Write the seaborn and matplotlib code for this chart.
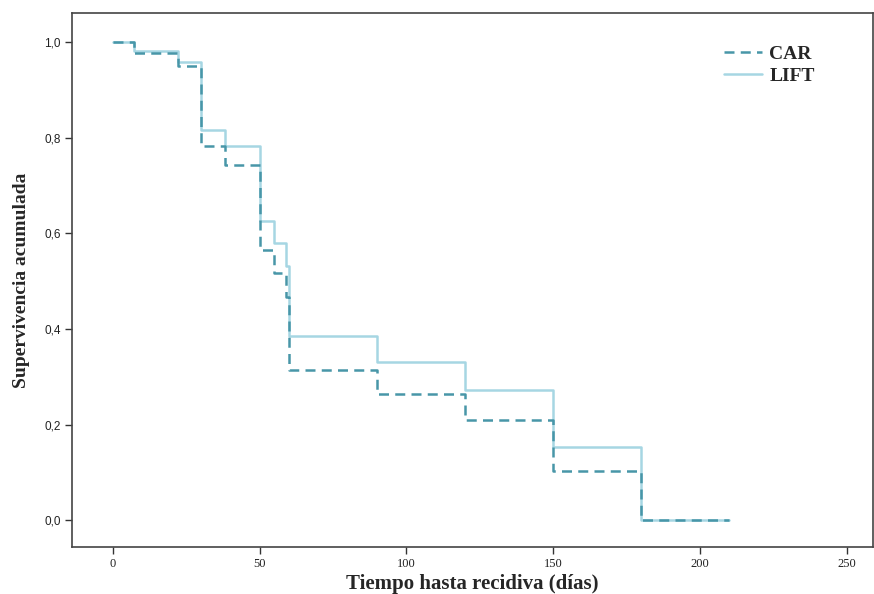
import matplotlib
matplotlib.use("Agg")
import matplotlib.pyplot as plt
import seaborn as sns
import pandas as pd
from matplotlib.ticker import FuncFormatter

# Data (Kaplan-Meier steps)
car_times = [0, 7, 22, 30, 38, 50, 55, 59, 60, 90, 120, 150, 180, 210]
car_surv = [1.0, 0.978, 0.951, 0.782, 0.744, 0.566, 0.518, 0.467, 0.315, 0.263, 0.209, 0.104, 0.0, 0.0]
lift_times = [0, 7, 22, 30, 38, 50, 55, 59, 60, 90, 120, 150, 180, 210]
lift_surv = [1.0, 0.982, 0.958, 0.816, 0.782, 0.626, 0.579, 0.531, 0.385, 0.331, 0.273, 0.153, 0.0, 0.0]
groups = ["CAR", "LIFT"]
x_ticks = [0, 50, 100, 150, 200, 250]
y_ticks = [0.0, 0.2, 0.4, 0.6, 0.8, 1.0]

df = pd.concat([
    pd.DataFrame({"t": car_times, "s": car_surv, "grupo": "CAR"}),
    pd.DataFrame({"t": lift_times, "s": lift_surv, "grupo": "LIFT"}),
], ignore_index=True)

sns.set_style("ticks")
plt.rcParams["font.family"] = ["Liberation Serif", "DejaVu Serif"]

fig = plt.figure(figsize=(8.74, 5.94), dpi=100)
ax = fig.add_axes([72 / 874, 1 - 547 / 594, 801 / 874, 534 / 594])

palette = {"CAR": "#4896a8", "LIFT": "#a6d6e3"}
# draw LIFT first, CAR on top
sns.lineplot(data=df[df.grupo == "LIFT"], x="t", y="s", color=palette["LIFT"],
             drawstyle="steps-post", estimator=None, linewidth=1.8, ax=ax,
             label="LIFT", zorder=2)
sns.lineplot(data=df[df.grupo == "CAR"], x="t", y="s", color=palette["CAR"],
             drawstyle="steps-post", estimator=None, linewidth=1.8, ax=ax,
             label="CAR", zorder=3)
ax.lines[1].set_linestyle((0, (4, 2.5)))

ax.set_xlim(-14, 259)
ax.set_ylim(-0.056, 1.061)
ax.set_xticks(x_ticks)
ax.set_yticks(y_ticks)
ax.yaxis.set_major_formatter(FuncFormatter(lambda v, p: f"{v:.1f}".replace(".", ",")))
for lab in ax.get_yticklabels():
    lab.set_fontfamily(["Liberation Sans", "DejaVu Sans"])
ax.tick_params(axis="both", direction="out", length=5, width=1, color="#333333",
               labelcolor="#222222", pad=3, bottom=True, left=True,
               top=False, right=False)
ax.tick_params(axis="x", labelsize=9)
ax.tick_params(axis="y", labelsize=8.5)
for sp in ax.spines.values():
    sp.set_visible(True)
    sp.set_color("#444444")
    sp.set_linewidth(1.2)

ax.set_xlabel("Tiempo hasta recidiva (días)", fontsize=15, fontweight="bold", labelpad=3)
ax.set_ylabel("Supervivencia acumulada", fontsize=14, fontweight="bold", labelpad=10)

h, l = ax.get_legend_handles_labels()
order = [l.index("CAR"), l.index("LIFT")]
leg = ax.legend([h[i] for i in order], [l[i] for i in order], loc="upper left",
                bbox_to_anchor=(706 / 874, 1 - 28 / 594), bbox_transform=fig.transFigure,
                frameon=False, handlelength=2.0, handletextpad=0.35, labelspacing=0.2,
                prop={"family": "Liberation Serif", "weight": "bold", "size": 14})

fig.savefig("out.png", dpi=100)
